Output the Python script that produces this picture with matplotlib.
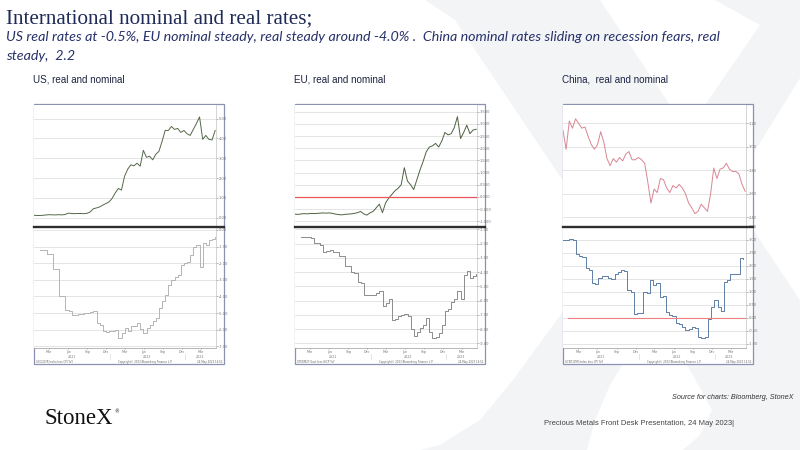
import matplotlib
matplotlib.use("Agg")
import matplotlib.pyplot as plt
import matplotlib.transforms as mtrans
from matplotlib.patches import Polygon, Rectangle
from matplotlib.lines import Line2D
import pandas as pd

# ---- data (2y nominal yields and real rates) ----
us_nominal = [0.13, 0.12, 0.12, 0.13, 0.15, 0.16, 0.15, 0.15, 0.16, 0.15,
              0.17, 0.24, 0.22, 0.21, 0.22, 0.22, 0.21, 0.23, 0.30, 0.46,
              0.50, 0.55, 0.64, 0.72, 0.80, 0.98, 1.25, 1.48, 1.40, 2.10,
              2.45, 2.67, 2.62, 2.75, 2.60, 3.40, 3.05, 3.10, 2.92, 3.20,
              3.35, 3.85, 4.40, 4.40, 4.60, 4.45, 4.50, 4.30, 4.40, 4.23,
              4.15, 4.45, 4.75, 5.08, 3.95, 4.15, 3.95, 3.92, 4.40]
us_real = [-1.20, -1.20, -1.45, -1.45, -2.35, -2.35, -3.95, -3.95, -4.80, -4.85,
           -5.10, -5.10, -5.05, -5.05, -5.00, -5.00, -4.95, -4.85, -5.60, -5.70,
           -6.10, -6.15, -6.05, -6.10, -6.00, -6.50, -6.20, -5.90, -6.05, -5.75,
           -5.80, -5.60, -5.95, -6.20, -5.90, -5.70, -5.50, -5.30, -4.70, -4.30,
           -3.90, -3.30, -3.00, -2.80, -2.70, -2.10, -2.00, -1.90, -1.50, -1.00,
           -0.90, -2.20, -0.80, -0.90, -0.60, -0.55, -0.40]

eu_nominal = [-0.71, -0.72, -0.70, -0.69, -0.70, -0.68, -0.69, -0.68, -0.67, -0.66,
              -0.67, -0.66, -0.68, -0.71, -0.73, -0.74, -0.72, -0.71, -0.70, -0.68,
              -0.65, -0.60, -0.70, -0.75, -0.66, -0.60, -0.45, -0.30, -0.65, -0.25,
              -0.05, 0.10, 0.25, 0.35, 0.50, 1.20, 0.65, 0.50, 0.30, 0.70,
              1.10, 1.45, 1.85, 2.05, 2.10, 2.20, 2.05, 2.30, 2.65, 2.55,
              2.60, 2.85, 3.30, 2.40, 2.65, 2.95, 2.60, 2.75, 2.78]
eu_real = [-1.55, -1.55, -1.55, -1.58, -1.95, -1.95, -2.10, -2.58, -2.55, -2.45,
           -2.60, -2.62, -2.90, -2.90, -3.55, -3.60, -4.00, -4.05, -4.70, -4.75,
           -5.60, -5.62, -5.58, -5.60, -5.45, -5.35, -6.40, -6.20, -5.90, -7.40,
           -7.30, -7.05, -7.00, -6.95, -7.10, -8.00, -8.50, -8.20, -7.95, -7.70,
           -7.20, -8.20, -8.60, -8.55, -8.30, -7.70, -6.70, -6.60, -6.10, -5.90,
           -5.30, -5.90, -4.20, -3.95, -4.45, -4.30, -4.15]

cn_nominal = [3.14, 2.98, 3.22, 3.16, 3.24, 3.20, 3.16, 3.17, 3.09, 3.02,
              2.98, 3.02, 3.13, 3.04, 2.90, 2.84, 2.90, 2.87, 2.91, 2.88,
              2.94, 2.96, 2.89, 2.89, 2.91, 2.89, 2.86, 2.70, 2.52, 2.64,
              2.61, 2.73, 2.72, 2.65, 2.61, 2.67, 2.65, 2.68, 2.65, 2.60,
              2.52, 2.48, 2.43, 2.45, 2.51, 2.48, 2.45, 2.60, 2.82, 2.73,
              2.81, 2.82, 2.86, 2.81, 2.79, 2.79, 2.77, 2.68, 2.62]
cn_real = [3.00, 2.98, 3.04, 3.00, 2.45, 2.40, 2.35, 1.90, 1.85, 1.32,
           1.30, 1.55, 1.62, 1.62, 1.52, 1.50, 1.70, 1.77, 1.84, 1.82,
           1.06, 1.00, 0.16, 0.18, 0.20, 1.00, 0.94, 1.45, 1.26, 1.32,
           0.81, 0.85, 0.23, 0.12, 0.05, -0.20, -0.24, -0.35, -0.48, -0.45,
           -0.35, -0.38, -0.74, -0.77, -0.75, -0.05, 0.40, 0.68, 0.42, 0.25,
           1.39, 1.45, 1.70, 1.67, 1.68, 2.29, 2.27]

us_ticks_top = [0, 1, 2, 3, 4, 5]
us_ticks_bot = [0, -1, -2, -3, -4, -5, -6, -7]
eu_ticks_top = [-1.0, -0.5, 0.0, 0.5, 1.0, 1.5, 2.0, 2.5, 3.0, 3.5]
eu_ticks_bot = [-1, -2, -3, -4, -5, -6, -7, -8, -9]
cn_ticks_top = [2.4, 2.6, 2.8, 3.0, 3.2]
cn_ticks_bot = [-1.0, -0.5, 0.0, 0.5, 1.0, 1.5, 2.0, 2.5, 3.0, 3.5]

month_ticks = ["2021-03-15", "2021-06-15", "2021-09-15", "2021-12-15", "2022-03-15",
               "2022-06-15", "2022-09-15", "2022-12-15", "2023-03-15"]
month_labels = ["Mar", "Jun", "Sep", "Dec", "Mar", "Jun", "Sep", "Dec", "Mar"]
year_pos = ["2021-07-01", "2022-07-01", "2023-03-10"]
year_labels = ["2021", "2022", "2023"]

W, H = 800, 450
NAVY = "#1f2a57"
NARROW = ["Liberation Sans Narrow", "Liberation Sans", "DejaVu Sans"]
START, END = pd.Timestamp("2021-01-01"), pd.Timestamp("2023-05-24")

fig = plt.figure(figsize=(8, 4.5), dpi=100)
fig.patch.set_facecolor("white")


def rect(x0, y0, x1, y1):
    return [x0 / W, 1 - y1 / H, (x1 - x0) / W, (y1 - y0) / H]


def fp(x, y):
    return (x / W, 1 - y / H)


# faint StoneX "X" watermark
arm_a = [(425, 0), (600, 0), (800, 300), (800, 450), (683, 450), (700, 435),
         (712, 410), (690, 370), (455, 20)]
arm_b = [(715, 0), (800, 0), (800, 78), (610, 385), (595, 420), (587, 450),
         (420, 450), (440, 445), (480, 420), (513, 380), (562, 313), (760, 25)]
for arm in (arm_a, arm_b):
    fig.add_artist(Polygon([fp(x, y) for x, y in arm], closed=True,
                           transform=fig.transFigure, facecolor="#f3f4f6",
                           edgecolor="none", zorder=-5))

T, S, BAX, B = 104, 227, 348, 364


def style_panel(ax, ticks, lim, fmt):
    ax.set_facecolor("white")
    ax.set_ylim(*lim)
    ax.set_xlim(START, pd.Timestamp("2023-05-28"))
    ax.set_yticks(ticks)
    ax.set_yticklabels([fmt % t for t in ticks])
    ax.yaxis.tick_right()
    ax.tick_params(axis="y", labelsize=2.6, length=1.2, width=0.4, pad=1,
                   colors="#777777")
    ax.grid(axis="y", color="#dcdcdc", lw=0.55)
    ax.set_axisbelow(True)
    for side in ("top", "left"):
        ax.spines[side].set_visible(False)
    ax.spines["right"].set_color("#c4c4c4")
    ax.spines["right"].set_linewidth(0.5)


def draw_chart(L, R, Rp, title, nom, nom_color, nom_ticks, nom_lim, nom_fmt,
               real, real_color, real_ticks, real_lim, real_fmt, real_start,
               real_end, red_top=False, red_bot=False, code=""):
    fig.add_artist(Rectangle(fp(L, B), (R - L) / W, (B - T) / H,
                             transform=fig.transFigure, facecolor="white",
                             edgecolor="#8a91b2", lw=0.9, zorder=-1))
    fig.text((L - 1) / W, 1 - 83 / H, title, fontsize=7.1, color="#1d2240",
             family=NARROW, va="baseline")

    top = fig.add_axes(rect(L, T + 1, Rp, S))
    style_panel(top, nom_ticks, nom_lim, nom_fmt)
    top.spines["bottom"].set_visible(False)
    top.tick_params(axis="x", bottom=False, labelbottom=False)
    d_nom = pd.date_range(START, END, periods=len(nom))
    top.plot(d_nom, nom, color=nom_color, lw=0.7)
    if red_top:
        top.axhline(0, color="#e8545c", lw=0.9)

    bot = fig.add_axes(rect(L, S, Rp, BAX))
    style_panel(bot, real_ticks, real_lim, real_fmt)
    bot.spines["bottom"].set_color("#9a9a9a")
    bot.spines["bottom"].set_linewidth(0.5)
    d_real = pd.date_range(real_start, real_end, periods=len(real))
    bot.plot(d_real, real, color=real_color, lw=0.7, drawstyle="steps-post")
    if red_bot:
        bot.axhline(0, xmin=0.03, color="#ec7f84", lw=0.8)
    bot.set_xticks(pd.to_datetime(month_ticks))
    bot.set_xticklabels(month_labels)
    bot.tick_params(axis="x", labelsize=2.3, length=1.0, width=0.4, pad=0.6,
                    colors="#777777")
    blend = mtrans.blended_transform_factory(bot.transData, bot.transAxes)
    for p, lab in zip(year_pos, year_labels):
        bot.text(pd.Timestamp(p), -0.055, lab, transform=blend, fontsize=2.3,
                 color="#777777", ha="center", va="top")
    for sep in ("2022-01-01", "2023-01-01"):
        bot.plot([pd.Timestamp(sep)] * 2, [-0.05, -0.09], transform=blend,
                 color="#cfcfcf", lw=0.4, clip_on=False)

    fig.add_artist(Line2D([L / W, R / W], [1 - S / H] * 2, color="#2e2e2e",
                          lw=1.7, transform=fig.transFigure))
    fy = 1 - 362.8 / H
    fig.text((L + 2) / W, fy, code, fontsize=1.9, color="#666666")
    fig.text((L + R) / 2 / W + 0.02, fy, "Copyright\u00a9 2023 Bloomberg Finance L.P.",
             fontsize=1.9, color="#666666", ha="center")
    fig.text((R - 2) / W, fy, "24-May-2023 14:52", fontsize=1.9,
             color="#666666", ha="right")


draw_chart(34, 224, 216, "US, real and nominal",
           us_nominal, "#55684a", us_ticks_top, (-0.46, 5.68), "%.2f",
           us_real, "#b4b4b4", us_ticks_bot, (-7.1, 0.18), "%.2f",
           "2021-02-01", "2023-05-24", code="USGG2YR Index less CPI YoY")
draw_chart(295, 485, 477, "EU, real and nominal",
           eu_nominal, "#4e6142", eu_ticks_top, (-1.24, 3.78), "%.3f",
           eu_real, "#8c8c8c", eu_ticks_bot, (-9.33, -0.84), "%.2f",
           "2021-02-01", "2023-05-24", red_top=True,
           code="GTDEM2Y Govt less HICP YoY")
draw_chart(563, 753, 746, "China,  real and nominal",
           cn_nominal, "#d98593", cn_ticks_top, (2.316, 3.358), "%.2f",
           cn_real, "#5d7ea6", cn_ticks_bot, (-1.17, 3.5), "%.2f",
           "2021-01-01", "2023-05-15", red_bot=True,
           code="GCNY10YR Index less CPI YoY")

# ---- slide text ----
fig.text(6 / W, 1 - 23 / H, "International nominal and real rates;", fontsize=15.2,
         family="Liberation Serif", color=NAVY, va="baseline")
fig.text(6 / W, 1 - 41 / H,
         "US real rates at -0.5%, EU nominal steady, real steady around -4.0% .  "
         "China nominal rates sliding on recession fears, real",
         fontsize=10.3, family="Lato", style="italic", color="#27316a", va="baseline")
fig.text(6 / W, 1 - 60 / H, "steady,  2.2", fontsize=10.3, family="Lato",
         style="italic", color="#27316a", va="baseline")

fig.text(793 / W, 1 - 399 / H, "Source for charts: Bloomberg, StoneX", fontsize=5.2,
         family=NARROW, style="italic", color="#333333", ha="right", va="baseline")
fig.text(544 / W, 1 - 425 / H, "Precious Metals Front Desk Presentation, 24 May 2023|",
         fontsize=5.5, family=NARROW, color="#444444", va="baseline")
fig.text(45 / W, 1 - 424 / H, "StoneX", fontsize=16.5, family="Liberation Serif",
         color="#111111", va="baseline")
fig.text(114 / W, 1 - 413 / H, "\u00ae", fontsize=3.5, color="#111111", va="baseline")

fig.savefig("out.png", dpi=100, facecolor="white")
